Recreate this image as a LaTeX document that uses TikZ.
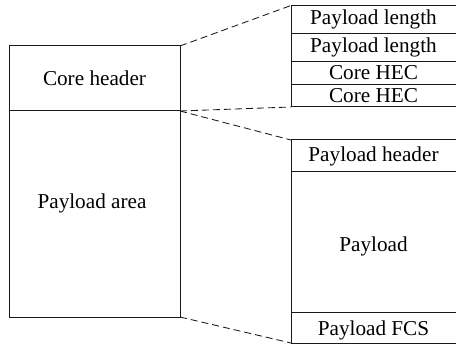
\documentclass[tikz,border=0pt]{standalone}
\usepackage{fontspec}
\setmainfont{Liberation Serif}
\begin{document}
\begin{tikzpicture}[x=1pt,y=-1pt,
  cell/.style={inner sep=0pt, outer sep=0pt, anchor=north west,
    font=\fontsize{21.2}{25}\selectfont},
  border/.style={line width=1pt, black!90},
  zoomline/.style={line width=0.85pt, black!90, dash pattern=on 7pt off 4pt}]
\useasboundingbox (0,0) rectangle (456,345);

% frame on the left: core header above the payload area
\node[cell, minimum width=171pt, minimum height=65pt] (core) at (9,46) {Core header};
\node[cell, minimum width=171pt, minimum height=206pt] (area) at (9,111) {};
\node[font=\fontsize{21.2}{25}\selectfont] (areatxt) at (92,203) {Payload area};
\draw[border] (core.north west) rectangle (area.south east);
\draw[border] (core.south west) -- (core.south east);

% fields of the core header
\node[cell, minimum width=165pt, minimum height=28pt] (len1) at (291,5.5) {Payload length};
\node[cell, minimum width=165pt, minimum height=28pt] (len2) at (291,33.5) {Payload length};
\node[cell, minimum width=165pt, minimum height=23pt] (hec1) at (291,61.5) {Core HEC};
\node[cell, minimum width=165pt, minimum height=22.5pt] (hec2) at (291,84.5) {Core HEC};
\draw[border] (len1.north east) -- (len1.north west) -- (hec2.south west) -- (hec2.south east);
\foreach \r in {len1,len2,hec1}
  \draw[border] (\r.south west) -- (\r.south east);

% fields of the payload area
\node[cell, minimum width=165pt, minimum height=32pt] (phdr) at (291,140) {Payload header};
\node[cell, minimum width=165pt, minimum height=140.7pt] (pay) at (291,172) {};
\node[font=\fontsize{21.2}{25}\selectfont] (paytxt) at (373.5,246) {Payload};
\node[cell, minimum width=165pt, minimum height=30.3pt] (fcs) at (291,312.7) {};
\node[font=\fontsize{21.2}{25}\selectfont] (fcstxt) at (373.5,330) {Payload FCS};
\draw[border] (phdr.north east) -- (phdr.north west) -- (fcs.south west) -- (fcs.south east);
\draw[border] (phdr.south west) -- (phdr.south east);
\draw[border] (pay.south west) -- (pay.south east);

% dashed lines relating each part to its breakdown
\draw[zoomline] (core.north east) -- (len1.north west);
\draw[zoomline] (core.south east) -- (hec2.south west);
\draw[zoomline] (area.north east) -- (phdr.north west);
\draw[zoomline] (area.south east) -- (fcs.south west);
\end{tikzpicture}
\end{document}
